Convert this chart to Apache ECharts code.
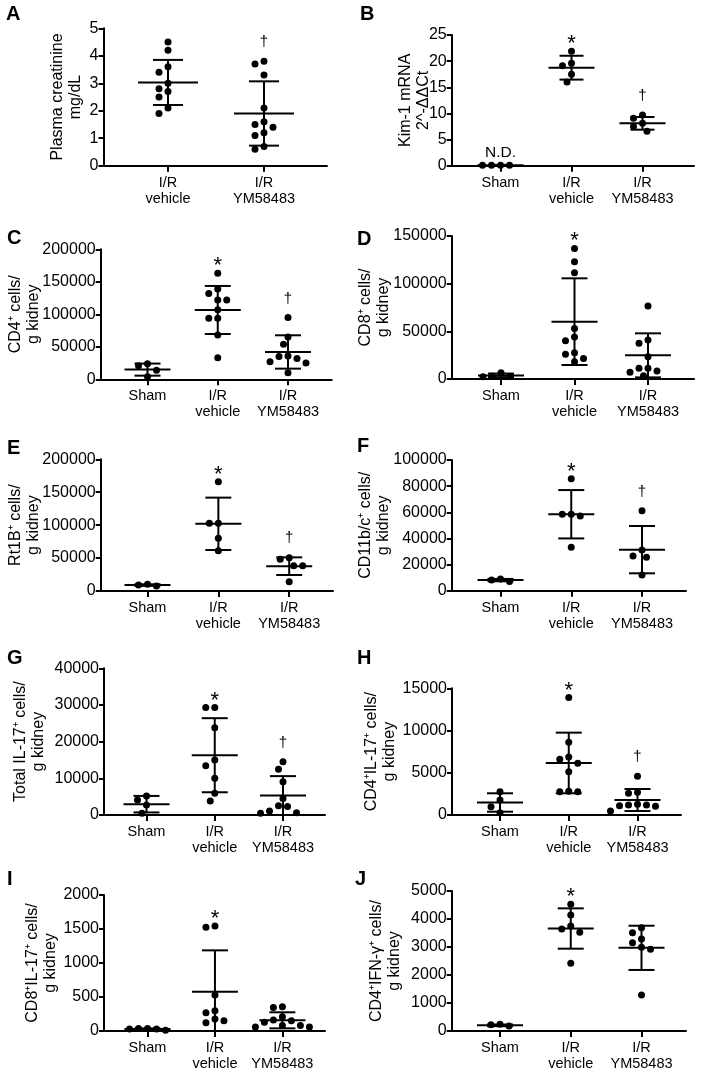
<!DOCTYPE html>
<html><head><meta charset="utf-8">
<script src="https://cdn.jsdelivr.net/npm/echarts@6/dist/echarts.min.js"></script>
<style>html,body{margin:0;padding:0;background:#fff}#c{width:702px;height:1071px}</style>
</head><body><div id="c"></div>
<script>
// ---------- categories ----------
const groups3 = ['Sham', 'I/R\nvehicle', 'I/R\nYM58483'];
const groups2 = ['I/R\nvehicle', 'I/R\nYM58483'];

// ---------- Panel A: plasma creatinine (mg/dL) ----------
const aVehicle = [4.5, 4.2, 3.6, 3.4, 3.0, 2.8, 2.7, 2.5, 2.1, 1.9];
const aYM = [3.8, 3.7, 3.3, 2.1, 1.6, 1.5, 1.4, 1.2, 1.1, 0.7, 0.6];
const aMean = [3.03, 1.9];
const aSD = [0.82, 1.17];
const aMarks = [null, '†'];

// ---------- Panel B: Kim-1 mRNA ----------
const bSham = [0.1, 0.1, 0.1, 0.1];
const bVehicle = [21.9, 19.6, 19.1, 17.5, 16.0];
const bYM = [9.7, 9.1, 8.1, 7.5, 6.6];
const bMean = [0.1, 18.75, 8.1];
const bSD = [0.05, 2.28, 1.21];
const bMarks = ['N.D.', '*', '†'];

// ---------- Panel C: CD4+ cells / g kidney ----------
const cSham = [24000, 21000, 14000, 4000];
const cVehicle = [163000, 139000, 132000, 122000, 122000, 107000, 94000, 94000, 68000, 33000];
const cYM = [95000, 65000, 54000, 36000, 35000, 32000, 27000, 25000, 10000];
const cMean = [14900, 106650, 42050];
const cSD = [9300, 36950, 25650];
const cMarks = [null, '*', '†'];

// ---------- Panel D: CD8+ cells / g kidney ----------
const dSham = [6600, 3100, 3000, 2400];
const dVehicle = [137000, 123000, 111500, 53000, 44000, 40000, 27500, 26000, 21500, 18000];
const dYM = [76600, 40900, 37400, 23400, 11200, 11200, 8400, 7000, 3500];
const dMean = [3800, 60150, 24800];
const dSD = [1900, 45450, 23100];
const dMarks = [null, '*', null];

// ---------- Panel E: Rt1B+ cells / g kidney ----------
const eSham = [10100, 9100, 7600];
const eVehicle = [166000, 103000, 103000, 80000, 61000];
const eYM = [50600, 48100, 38500, 38500, 14200];
const eMean = [9000, 102050, 37700];
const eSD = [1200, 39750, 13400];
const eMarks = [null, '*', '†'];

// ---------- Panel F: CD11b/c+ cells / g kidney ----------
const fSham = [8900, 8200, 7100];
const fVehicle = [85700, 58400, 58400, 57100, 33200];
const fYM = [61200, 31100, 26500, 25500, 12000];
const fMean = [8100, 58500, 31400];
const fSD = [900, 18500, 18100];
const fMarks = [null, '*', '†'];

// ---------- Panel G: Total IL-17+ cells / g kidney ----------
const gSham = [5200, 4100, 2700, 500];
const gVehicle = [29300, 29300, 23800, 15000, 13400, 10000, 5900, 3800];
const gYM = [14500, 12500, 9100, 4500, 2500, 2300, 1100, 600, 500];
const gMean = [2950, 16300, 5300];
const gSD = [2250, 10100, 5300];
const gMarks = [null, '*', '†'];

// ---------- Panel H: CD4+IL-17+ cells / g kidney ----------
const hSham = [2760, 1780, 990, 280];
const hVehicle = [13900, 8600, 6870, 6590, 6120, 5130, 2800, 2760, 2760];
const hYM = [4580, 2680, 2570, 1260, 1180, 1180, 1100, 1030, 470];
const hMean = [1480, 6160, 1775];
const hSD = [1090, 3590, 1305];
const hMarks = [null, '*', '†'];

// ---------- Panel I: CD8+IL-17+ cells / g kidney ----------
const iSham = [35, 30, 10, 30, 35];
const iVehicle = [1544, 1524, 529, 299, 270, 176, 152, 123];
const iYM = [355, 345, 210, 160, 150, 130, 80, 80, 60, 60];
const iMean = [28, 578, 157];
const iSD = [10, 608, 118];
const iMarks = [null, '*', null];

// ---------- Panel J: CD4+IFN-γ+ cells / g kidney ----------
const jSham = [238, 226, 179];
const jVehicle = [4524, 4143, 3750, 3643, 3524, 2417];
const jYM = [3690, 3511, 3286, 3155, 2988, 2917, 1286];
const jMean = [202, 3660, 2970];
const jSD = [30, 720, 790];
const jMarks = [null, '*', null];

// ---------- y axis ranges ----------
const yMaxes = [5, 25, 200000, 150000, 200000, 100000, 40000, 15000, 2000, 5000];
const ySteps = [1, 5, 50000, 50000, 50000, 20000, 10000, 5000, 500, 1000];
const yNames = [
  'Plasma creatinine\nmg/dL',
  'Kim-1 mRNA\n2^-ΔΔCt',
  'CD4⁺ cells/\ng kidney',
  'CD8⁺ cells/\ng kidney',
  'Rt1B⁺ cells/\ng kidney',
  'CD11b/c⁺ cells/\ng kidney',
  'Total IL-17⁺ cells/\ng kidney',
  'CD4⁺IL-17⁺ cells/\ng kidney',
  'CD8⁺IL-17⁺ cells/\ng kidney',
  'CD4⁺IFN-γ⁺ cells/\ng kidney'
];
const letters = ['A','B','C','D','E','F','G','H','I','J'];

// ---------- assemble ----------
const panels = [
  { groups: groups2, values: [aVehicle, aYM], mean: aMean, sd: aSD, marks: aMarks },
  { groups: groups3, values: [bSham, bVehicle, bYM], mean: bMean, sd: bSD, marks: bMarks },
  { groups: groups3, values: [cSham, cVehicle, cYM], mean: cMean, sd: cSD, marks: cMarks },
  { groups: groups3, values: [dSham, dVehicle, dYM], mean: dMean, sd: dSD, marks: dMarks },
  { groups: groups3, values: [eSham, eVehicle, eYM], mean: eMean, sd: eSD, marks: eMarks },
  { groups: groups3, values: [fSham, fVehicle, fYM], mean: fMean, sd: fSD, marks: fMarks },
  { groups: groups3, values: [gSham, gVehicle, gYM], mean: gMean, sd: gSD, marks: gMarks },
  { groups: groups3, values: [hSham, hVehicle, hYM], mean: hMean, sd: hSD, marks: hMarks },
  { groups: groups3, values: [iSham, iVehicle, iYM], mean: iMean, sd: iSD, marks: iMarks },
  { groups: groups3, values: [jSham, jVehicle, jYM], mean: jMean, sd: jSD, marks: jMarks }
];

// ---------- layout (pixels) ----------
const layout = [
  { left: 103.5, top: 28.3,  bottom: 165.7, right: 327,   t1: 168,   tn: 264,   gap: 19, lx: 6,   ly: 4,   mh: 30, ch: 15 },
  { left: 451.7, top: 35,    bottom: 165.7, right: 694,   t1: 500.5, tn: 642.5, gap: 19, lx: 360, ly: 4,   mh: 23, ch: 12 },
  { left: 100.7, top: 249.3, bottom: 379.3, right: 331.7, t1: 147.5, tn: 288,   gap: 58, lx: 7,   ly: 228, mh: 23, ch: 13 },
  { left: 451.7, top: 236,   bottom: 379,   right: 694,   t1: 501,   tn: 648,   gap: 59, lx: 357, ly: 229, mh: 23, ch: 13 },
  { left: 100.7, top: 459.3, bottom: 591,   right: 333,   t1: 147.5, tn: 289.2, gap: 58, lx: 7,   ly: 438, mh: 23, ch: 13 },
  { left: 451.7, top: 460,   bottom: 590.7, right: 686,   t1: 500.5, tn: 642,   gap: 59, lx: 357, ly: 436, mh: 23, ch: 13 },
  { left: 104,   top: 668.3, bottom: 815,   right: 325,   t1: 146.5, tn: 283,   gap: 56, lx: 7,   ly: 648, mh: 23, ch: 13 },
  { left: 452,   top: 688.3, bottom: 815,   right: 681,   t1: 500,   tn: 637.5, gap: 53, lx: 357, ly: 648, mh: 23, ch: 13 },
  { left: 104,   top: 895,   bottom: 1031,  right: 325,   t1: 147.5, tn: 282.4, gap: 44, lx: 7,   ly: 869, mh: 23, ch: 13 },
  { left: 451.7, top: 891,   bottom: 1031,  right: 686,   t1: 500,   tn: 641.5, gap: 48, lx: 355, ly: 869, mh: 23, ch: 13 }
];

const FONT = '"Liberation Sans", Arial, Helvetica, sans-serif';
const BLACK = '#000';

// simple beeswarm (pixel offsets) so that dots do not overlap
function swarm(vals, pxPerUnit) {
  const step = 9, minD = 8.2;
  const idx = vals.map((v, i) => i).sort((a, b) => vals[b] - vals[a]);
  const cands = [0];
  for (let k = 1; k <= 14; k++) cands.push(-k * step / 2, k * step / 2);
  const placed = [];
  const out = new Array(vals.length).fill(0);
  for (const i of idx) {
    const y = vals[i] * pxPerUnit;
    for (const c of cands) {
      if (placed.every(p => Math.hypot(p[0] - c, p[1] - y) >= minD)) {
        out[i] = c; placed.push([c, y]); break;
      }
    }
  }
  return out;
}

const markStyle = {
  '*':   { fs: 22, dy: 7,  fw: 'normal' },
  '†':   { fs: 15, dy: 19, fw: 'normal' },
  'N.D.':{ fs: 15.5, dy: 12, fw: 'normal' }
};

const grids = [], xAxes = [], yAxes = [], series = [], graphics = [];

panels.forEach((p, i) => {
  const L = layout[i];
  const n = p.groups.length;
  const sp = (L.tn - L.t1) / (n - 1);
  const xMin = 1 - (L.t1 - L.left) / sp;
  const xMax = n + (L.right - L.tn) / sp;
  const yMax = yMaxes[i];
  const pxPerY = (L.bottom - L.top) / yMax;
  const ticks = p.groups.map((g, j) => j + 1);

  grids.push({ left: L.left, top: L.top, width: L.right - L.left, height: L.bottom - L.top,
               containLabel: false, outerBoundsMode: 'none' });

  xAxes.push({
    gridIndex: i, type: 'value', min: xMin, max: xMax,
    axisLine: { show: true, onZero: false, lineStyle: { color: BLACK, width: 2 } },
    axisTick: { show: true, length: 6, customValues: ticks, lineStyle: { color: BLACK, width: 2 } },
    axisLabel: {
      customValues: ticks, color: BLACK, fontSize: 14.5, lineHeight: 16, margin: 9, fontFamily: FONT,
      formatter: v => { const k = Math.round(v); return Math.abs(v - k) < 1e-6 && p.groups[k - 1] ? p.groups[k - 1] : ''; }
    },
    splitLine: { show: false }
  });

  yAxes.push({
    gridIndex: i, type: 'value', min: 0, max: yMax, interval: ySteps[i],
    axisLine: { show: true, onZero: false, lineStyle: { color: BLACK, width: 2 } },
    axisTick: { show: true, length: 5, lineStyle: { color: BLACK, width: 2 } },
    axisLabel: { color: BLACK, fontSize: 16, margin: 5, fontFamily: FONT, formatter: v => String(v) },
    splitLine: { show: false },
    name: yNames[i], nameLocation: 'middle', nameRotate: 90, nameGap: L.gap, nameMoveOverlap: false,
    nameTextStyle: { color: BLACK, fontSize: 16, lineHeight: 18, fontFamily: FONT }
  });

  // dots
  const pts = [];
  p.values.forEach((vals, j) => {
    const offs = swarm(vals, pxPerY);
    vals.forEach((v, k) => pts.push([j + 1 + offs[k] / sp, v]));
  });
  series.push({
    type: 'scatter', xAxisIndex: i, yAxisIndex: i, symbol: 'circle', symbolSize: 7,
    itemStyle: { color: BLACK, opacity: 1 }, silent: true, z: 3, data: pts
  });

  // mean ± SD bars
  series.push({
    type: 'custom', xAxisIndex: i, yAxisIndex: i, silent: true, z: 4, clip: false,
    data: p.mean.map((m, j) => [j + 1, m, p.sd[j]]),
    renderItem: (params, api) => {
      const g = api.value(0), m = api.value(1), s = api.value(2);
      const lowClipped = m - s < 0;
      const pm = api.coord([g, m]);
      const ph = api.coord([g, m + s]);
      const pl = api.coord([g, Math.max(0, m - s)]);
      const st = { stroke: BLACK, lineWidth: 2, fill: null };
      const ch = [
        { type: 'line', shape: { x1: ph[0], y1: ph[1], x2: pl[0], y2: pl[1] }, style: st },
        { type: 'line', shape: { x1: pm[0] - L.mh, y1: pm[1], x2: pm[0] + L.mh, y2: pm[1] }, style: st },
        { type: 'line', shape: { x1: ph[0] - L.ch, y1: ph[1], x2: ph[0] + L.ch, y2: ph[1] }, style: st }
      ];
      if (!lowClipped) ch.push({ type: 'line', shape: { x1: pl[0] - L.ch, y1: pl[1], x2: pl[0] + L.ch, y2: pl[1] }, style: st });
      return { type: 'group', children: ch };
    }
  });

  // significance marks
  const ann = [];
  p.marks.forEach((t, j) => {
    if (!t) return;
    const top = Math.max(Math.max.apply(null, p.values[j]), p.mean[j] + p.sd[j]);
    ann.push({ g: j + 1, top: top, t: t });
  });
  series.push({
    type: 'custom', xAxisIndex: i, yAxisIndex: i, silent: true, z: 5, clip: false,
    data: ann.map(a => [a.g, a.top]),
    renderItem: (params, api) => {
      const a = ann[params.dataIndex];
      const c = api.coord([api.value(0), api.value(1)]);
      const ms = markStyle[a.t];
      return { type: 'text', x: c[0], y: c[1] - ms.dy,
        style: { text: a.t, align: 'center', verticalAlign: 'middle', fontSize: ms.fs,
                 fontWeight: ms.fw, fontFamily: FONT, fill: BLACK } };
    }
  });

  graphics.push({ type: 'text', left: L.lx, top: L.ly,
    style: { text: letters[i], font: 'bold 20px ' + FONT, fill: BLACK } });
});

const chart = echarts.init(document.getElementById('c'), null, { renderer: 'canvas' });
chart.setOption({
  backgroundColor: '#fff',
  animation: false,
  grid: grids, xAxis: xAxes, yAxis: yAxes, series: series, graphic: graphics
});
</script></body></html>
